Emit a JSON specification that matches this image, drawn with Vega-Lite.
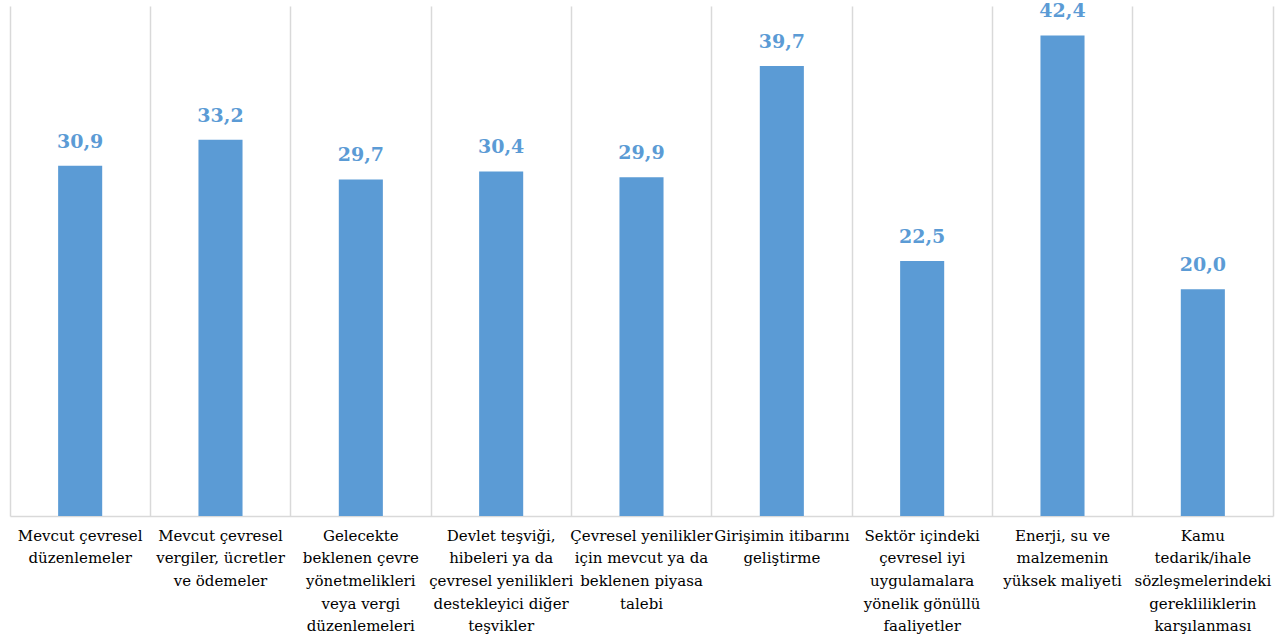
{
  "$schema": "https://vega.github.io/schema/vega-lite/v6.json",
  "autosize": "none",
  "width": 1263,
  "height": 510,
  "padding": {"left": 10, "top": 6, "right": 12, "bottom": 127},
  "background": "white",
  "config": {
    "view": {"stroke": null},
    "locale": {"number": {"decimal": ",", "thousands": ".", "grouping": [3], "currency": ["", " ₺"]}}
  },
  "data": {
    "values": [
      {"kategori": "Mevcut çevresel|düzenlemeler", "oran": 30.9},
      {"kategori": "Mevcut çevresel|vergiler, ücretler|ve ödemeler", "oran": 33.2},
      {"kategori": "Gelecekte|beklenen çevre|yönetmelikleri|veya vergi|düzenlemeleri", "oran": 29.7},
      {"kategori": "Devlet teşviği,|hibeleri ya da|çevresel yenilikleri|destekleyici diğer|teşvikler", "oran": 30.4},
      {"kategori": "Çevresel yenilikler|için mevcut ya da|beklenen piyasa|talebi", "oran": 29.9},
      {"kategori": "Girişimin itibarını|geliştirme", "oran": 39.7},
      {"kategori": "Sektör içindeki|çevresel iyi|uygulamalara|yönelik gönüllü|faaliyetler", "oran": 22.5},
      {"kategori": "Enerji, su ve|malzemenin|yüksek maliyeti", "oran": 42.4},
      {"kategori": "Kamu|tedarik/ihale|sözleşmelerindeki|gerekliliklerin|karşılanması", "oran": 20.0}
    ]
  },
  "encoding": {
    "x": {
      "field": "kategori",
      "type": "nominal",
      "sort": null,
      "scale": {"paddingInner": 0, "paddingOuter": 0},
      "axis": {
        "title": null,
        "labelAngle": 0,
        "labelExpr": "split(datum.label, '|')",
        "labelFont": "DejaVu Serif",
        "labelFontSize": 15,
        "labelLineHeight": 22.7,
        "labelColor": "#000000",
        "labelPadding": 12,
        "labelOverlap": false,
        "labelBound": false,
        "labelLimit": 0,
        "ticks": false,
        "domainColor": "#d9d9d9",
        "domainWidth": 1.5,
        "grid": true,
        "gridColor": "#d9d9d9",
        "gridWidth": 1.5,
        "bandPosition": 0
      }
    },
    "y": {
      "field": "oran",
      "type": "quantitative",
      "scale": {"domain": [0, 45], "nice": false},
      "axis": {
        "orient": "right",
        "title": null,
        "labels": false,
        "ticks": false,
        "grid": false,
        "domain": true,
        "domainColor": "#d9d9d9",
        "domainWidth": 1.5
      }
    }
  },
  "layer": [
    {
      "mark": {"type": "bar", "color": "#5B9BD5", "width": {"band": 0.314}}
    },
    {
      "mark": {
        "type": "text",
        "dy": -14,
        "baseline": "bottom",
        "font": "DejaVu Serif",
        "fontWeight": "bold",
        "fontSize": 19,
        "color": "#5B9BD5"
      },
      "encoding": {
        "text": {"field": "oran", "type": "quantitative", "format": ".1f"}
      }
    }
  ]
}
